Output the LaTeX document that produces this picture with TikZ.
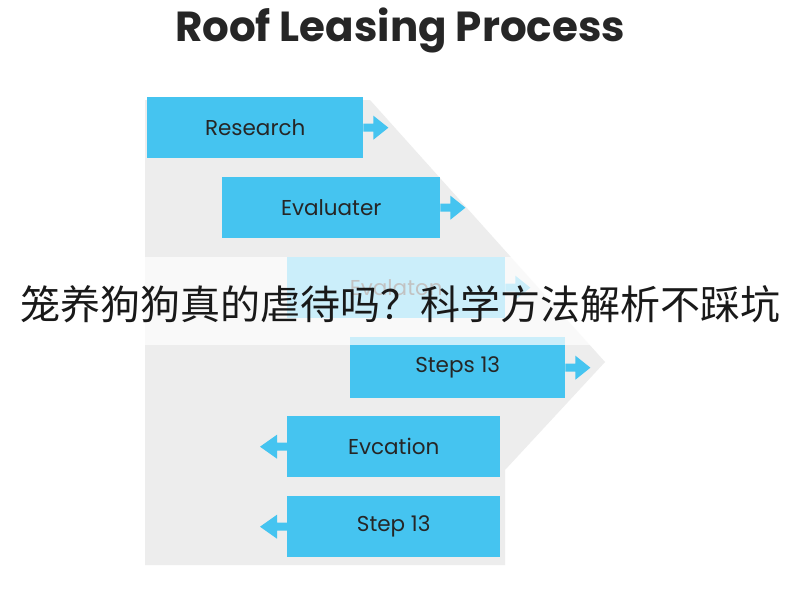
\documentclass[tikz,border=0pt]{standalone}
\usepackage{fontspec}
\setmainfont{Poppins}
\newfontfamily\cjk{Noto Sans CJK SC}
\definecolor{boxc}{HTML}{45C4F0}
\definecolor{bgc}{HTML}{EDEDED}
\begin{document}
\begin{tikzpicture}[x=1pt,y=-1pt,
  stepbox/.style={fill=boxc,minimum width=216pt,minimum height=61pt,inner sep=0pt,anchor=north west,font=\fontsize{21.5}{24}\selectfont,text=black!85},
  arr/.style={fill=boxc,draw=none}]
\useasboundingbox (0,0) rectangle (800,600);
\fill[white] (0,0) rectangle (800,600);
\fill[bgc] (145,100) -- (370,100) -- (605,362) -- (505,470) -- (505,565) -- (145,565) -- cycle;
\node[font=\bfseries\fontsize{42}{46}\selectfont,text=black!85] (title) at (400,30) {Roof Leasing Process};
\node[stepbox] (s1) at (147,97) {Research};
\node[stepbox,minimum width=218pt] (s2) at (222,177) {Evaluater};
\node[stepbox,minimum width=218pt] (s3) at (287,257) {Evalaton};
\node[stepbox,minimum width=215pt] (s4) at (350,337) {Steps 13};
\node[stepbox,minimum width=213pt] (s5) at (287,416) {Evcation};
\node[stepbox,minimum width=213pt] (s6) at (287,496) {Step 13};
\foreach \n in {s1,s2,s3,s4}{
  \fill[arr] (\n.east) ++(0,-4) -- ++(10,0) -- ++(0,-8) -- ++(15,12) -- ++(-15,12) -- ++(0,-8) -- ++(-10,0) -- cycle;
}
\foreach \n in {s5,s6}{
  \fill[arr] (\n.west) ++(0,-4) -- ++(-10,0) -- ++(0,-8) -- ++(-17,12) -- ++(17,12) -- ++(0,-8) -- ++(10,0) -- cycle;
}
\fill[white,opacity=0.72] (0,257) rectangle (800,345);
\node[font=\cjk\fontsize{40}{44}\selectfont,text=black!90] (cap) at (400,304) {笼养狗狗真的虐待吗？科学方法解析不踩坑};
\end{tikzpicture}
\end{document}
